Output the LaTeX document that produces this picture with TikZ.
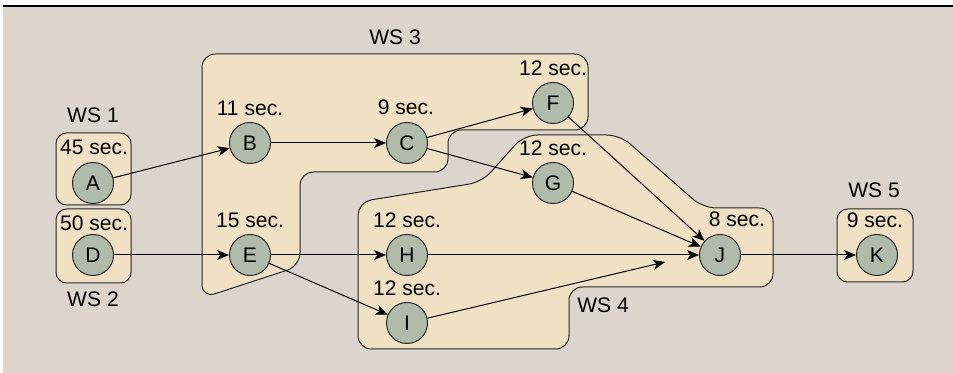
\documentclass[tikz,border=0pt]{standalone}
\usepackage{fontspec}
\setmainfont{Liberation Sans}
\usetikzlibrary{arrows.meta}

\definecolor{bgcol}{RGB}{221,213,204}
\definecolor{wscol}{RGB}{240,224,196}
\definecolor{taskcol}{RGB}{176,187,170}

\tikzset{
  task/.style={circle, draw=black!85, line width=0.75pt, fill=taskcol, inner sep=0pt, minimum size=30.75pt},
  station/.style={draw=black!85, line width=0.75pt, fill=wscol},
  txt/.style={inner sep=0pt},
  flow/.style={-{Stealth[length=9pt,width=7.5pt,inset=2.5pt]}, line width=0.75pt}
}

\begin{document}
\begin{tikzpicture}[x=0.75pt,y=0.75pt,yscale=-1,xscale=1, font=\fontsize{15.8}{18}\selectfont]
        \useasboundingbox (0,0) rectangle (953,373);
        %Shape: Rectangle [background]
        \fill [bgcol] (3,7) rectangle (953,373);
        %Straight Lines [top rule]
        \draw [line width=1.5pt] (3,6) -- (953,6);

        %Shape: Rounded Rectangle [WS 1]
        \draw [station, rounded corners=8] (56,133) rectangle (131,205);
        %Shape: Rounded Rectangle [WS 2]
        \draw [station, rounded corners=8] (56,209) rectangle (131,283);
        %Shape: Rounded Rectangle [WS 5]
        \draw [station, rounded corners=8] (837,209) rectangle (913,282);
        %Shape: Polygon [WS 3]
        \draw [station, rounded corners=10] (202,54) -- (588,54) -- (588,130) -- (448,130) -- (448,172) -- (300,172) -- (300,266) -- (202,298) -- cycle;
        %Shape: Polygon [WS 4]
        \draw [station, rounded corners=10] (358,202) -- (482,182) -- (524,135) -- (620,135) -- (703,208) -- (773,208) -- (773,287) -- (569,287) -- (569,349) -- (358,349) -- cycle;

        % Task Nodes
        \node [task] (A) at (93,183) {A};
        \node [task] (D) at (93,255) {D};
        \node [task] (B) at (250,143) {B};
        \node [task] (E) at (250,255) {E};
        \node [task] (C) at (407,143) {C};
        \node [task] (H) at (407,255) {H};
        \node [task] (I) at (407,323) {I};
        \node [task] (F) at (553,103) {F};
        \node [task] (G) at (553,183) {G};
        \node [task] (J) at (720,255) {J};
        \node [task] (K) at (877,255) {K};
        \coordinate (Jin) at (665,262);

        % Text Node
        \node [txt] (ws1) at (93,115) {WS 1};
        \node [txt] (ws2) at (93,299) {WS 2};
        \node [txt] (ws3) at (395,37) {WS 3};
        \node [txt] (ws4) at (603,305) {WS 4};
        \node [txt] (ws5) at (874,190) {WS 5};
        % Text Node
        \node [txt] (tA) at (94,147) {45 sec.};
        \node [txt] (tD) at (94,223) {50 sec.};
        \node [txt] (tB) at (250,108) {11 sec.};
        \node [txt] (tE) at (250,220) {15 sec.};
        \node [txt] (tC) at (406,107) {9 sec.};
        \node [txt] (tH) at (407,220) {12 sec.};
        \node [txt] (tI) at (407,288) {12 sec.};
        \node [txt] (tF) at (553,68) {12 sec.};
        \node [txt] (tG) at (553,148) {12 sec.};
        \node [txt] (tJ) at (737,219) {8 sec.};
        \node [txt] (tK) at (875,220) {9 sec.};

        %Straight Lines
        \draw [flow] (A) -- (B);
        \draw [flow] (B) -- (C);
        \draw [flow] (C) -- (F);
        \draw [flow] (C) -- (G);
        \draw [flow] (D) -- (E);
        \draw [flow] (E) -- (H);
        \draw [flow] (E) -- (I);
        \draw [flow] (F) -- (J);
        \draw [flow] (G) -- (J);
        \draw [flow] (H) -- (J);
        \draw [flow] (I) -- (Jin);
        \draw [flow] (J) -- (K);
\end{tikzpicture}
\end{document}
